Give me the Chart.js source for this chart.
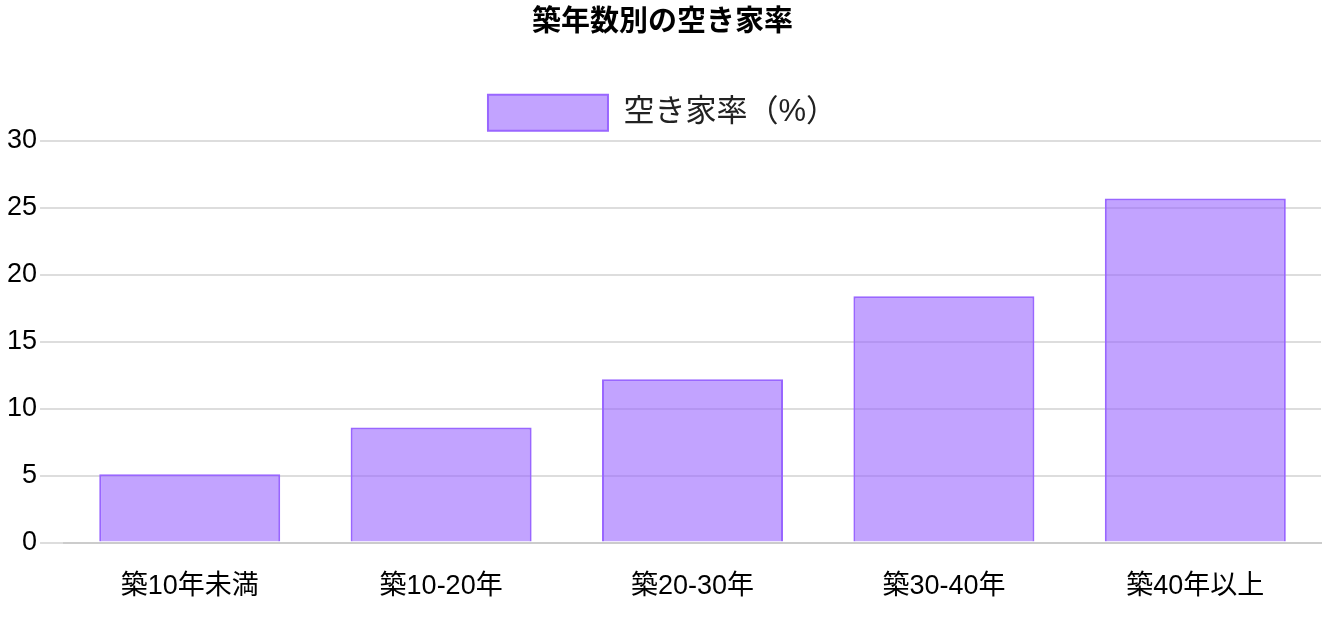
<!DOCTYPE html>
<html><head><meta charset="utf-8">
<script src="https://cdn.jsdelivr.net/npm/chart.js@4"></script>
<style>html,body{margin:0;padding:0;background:#fff}#w{width:1339px;height:631px}</style>
</head><body><div id="w"><canvas id="c"></canvas></div>
<script>
const categories = ["築10年未満","築10-20年","築20-30年","築30-40年","築40年以上"];
const vacancyRate = [5.1, 8.6, 12.2, 18.4, 25.7];
const seriesLabel = "空き家率（%）";
const titleText = "築年数別の空き家率";
Chart.defaults.font.family = "'Liberation Sans', 'Noto Sans CJK JP', sans-serif";
new Chart(document.getElementById('c'), {
  type: 'bar',
  data: { labels: categories, datasets: [{ label: seriesLabel, data: vacancyRate,
    backgroundColor: 'rgba(153,102,255,0.6)', borderColor: 'rgba(153,102,255,1)', borderWidth: 2 }] },
  options: {
    responsive: true, maintainAspectRatio: false, animation: false,
    layout: { padding: { left: 4, right: 18, bottom: 8 } },
    plugins: {
      title: { display: true, text: titleText, color: '#000', font: { size: 29, weight: 'bold' }, padding: { top: 6, bottom: 40 } },
      legend: { labels: { color: '#222', font: { size: 31 }, boxWidth: 120, boxHeight: 36, padding: 14 } }
    },
    scales: {
      x: { grid: { display: false }, border: { color: '#ccc', width: 2 }, ticks: { color: '#000', padding: 20, font: { size: 27 } } },
      y: { min: 0, max: 30, border: { display: false }, grid: { color: '#ddd', lineWidth: 2, tickLength: 24 },
           ticks: { stepSize: 5, color: '#000', font: { size: 27 } } }
    }
  }
});
</script></body></html>
